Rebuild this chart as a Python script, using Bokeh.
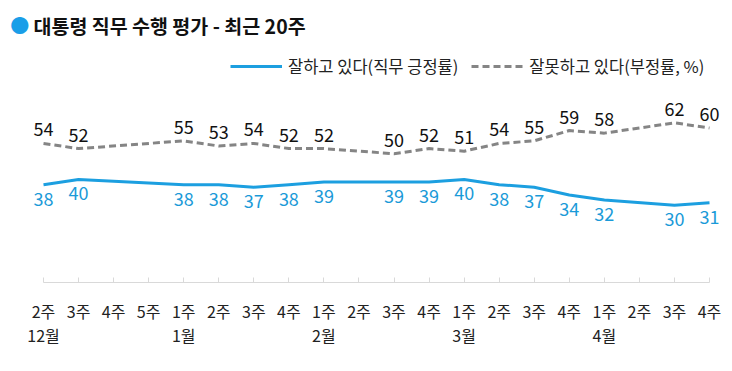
from bokeh.plotting import figure
from bokeh.models import Range1d, LinearAxis, FixedTicker, Legend, LegendItem, Label, ColumnDataSource
from bokeh.core.properties import value
from bokeh.embed import file_html
from bokeh.resources import INLINE

# ---- data ----
week_labels = ["2주", "3주", "4주", "5주", "1주", "2주", "3주", "4주", "1주", "2주",
               "3주", "4주", "1주", "2주", "3주", "4주", "1주", "2주", "3주", "4주"]
month_labels = {0: "12월", 4: "1월", 8: "2월", 12: "3월", 16: "4월"}
# weeks with a survey (index into week_labels)
survey_idx = [0, 1, 4, 5, 6, 7, 8, 10, 11, 12, 13, 14, 15, 16, 18, 19]
positive = [38, 40, 38, 38, 37, 38, 39, 39, 39, 40, 38, 37, 34, 32, 30, 31]
negative = [54, 52, 55, 53, 54, 52, 52, 50, 52, 51, 54, 55, 59, 58, 62, 60]

title_text = "대통령 직무 수행 평가 - 최근 20주"
pos_name = "잘하고 있다(직무 긍정률)"
neg_name = "잘못하고 있다(부정률, %)"

FONT = "Noto Sans CJK KR"
BLUE = "#1c9fe0"
BLUE_TXT = "#1a9ad8"
GREY = "#858585"

W, H = 724, 363
p = figure(width=W, height=H, output_backend="svg", toolbar_location=None,
           x_range=Range1d(-0.9985, 19.428), y_range=Range1d(0, 106.4),
           min_border_left=8, min_border_right=0, min_border_top=8, min_border_bottom=81,
           x_axis_location=None, y_axis_location=None)
p.outline_line_color = None
p.grid.visible = False
p.background_fill_color = "white"

src = ColumnDataSource(dict(
    x=survey_idx, pos=positive, neg=negative,
    pos_t=[str(v) for v in positive], neg_t=[str(v) for v in negative]))

r_neg = p.line("x", "neg", source=src, line_color=GREY, line_width=3, line_dash="7 4")
r_pos = p.line("x", "pos", source=src, line_color=BLUE, line_width=3)

p.text("x", "neg", text="neg_t", source=src, text_align="center", text_baseline="middle",
       y_offset=-14, text_font=value(FONT), text_font_size="18px", text_color="#111111")
p.text("x", "pos", text="pos_t", source=src, text_align="center", text_baseline="middle",
       y_offset=14, text_font=value(FONT), text_font_size="18px", text_color=BLUE_TXT)

# week axis
ax1 = LinearAxis(ticker=FixedTicker(ticks=list(range(len(week_labels)))),
                 major_label_overrides={i: t for i, t in enumerate(week_labels)},
                 bounds=(0, len(week_labels) - 1))
ax1.axis_line_color = "#d9d9d9"
ax1.major_tick_line_color = "#d9d9d9"
ax1.major_tick_in = 5
ax1.major_tick_out = 0
ax1.minor_tick_line_color = None
ax1.major_label_standoff = 16
ax1.major_label_text_font = FONT
ax1.major_label_text_font_size = "16px"
ax1.major_label_text_color = "#222222"
p.add_layout(ax1, "below")

# month axis
ax2 = LinearAxis(ticker=FixedTicker(ticks=list(month_labels.keys())),
                 major_label_overrides=month_labels)
ax2.axis_line_color = None
ax2.major_tick_line_color = None
ax2.minor_tick_line_color = None
ax2.major_tick_in = 0
ax2.major_tick_out = 0
ax2.major_label_standoff = -3
ax2.major_label_text_font = FONT
ax2.major_label_text_font_size = "16px"
ax2.major_label_text_color = "#222222"
p.add_layout(ax2, "below")

# title
p.add_layout(Label(x=-0.68, y=100.0, text="●", text_color="#1a9ee8", text_font=FONT,
                   text_font_size="19px", text_baseline="middle", text_align="center"))
p.add_layout(Label(x=-0.285, y=99.8, text=title_text, text_color="#111111", text_font=FONT,
                   text_font_size="19.5px", text_font_style="bold", text_baseline="middle"))

legend = Legend(items=[LegendItem(label=pos_name, renderers=[r_pos]),
                       LegendItem(label=neg_name, renderers=[r_neg])],
                orientation="horizontal", location=(222, 204))
legend.glyph_width = 52
legend.glyph_height = 20
legend.label_height = 20
legend.label_standoff = 6
legend.spacing = 13
legend.padding = 0
legend.margin = 0
legend.border_line_color = None
legend.background_fill_alpha = 0
legend.label_text_font = FONT
legend.label_text_font_size = "16.5px"
legend.label_text_color = "#222222"
p.add_layout(legend)

open("out.html", "w").write(file_html(p, INLINE))
